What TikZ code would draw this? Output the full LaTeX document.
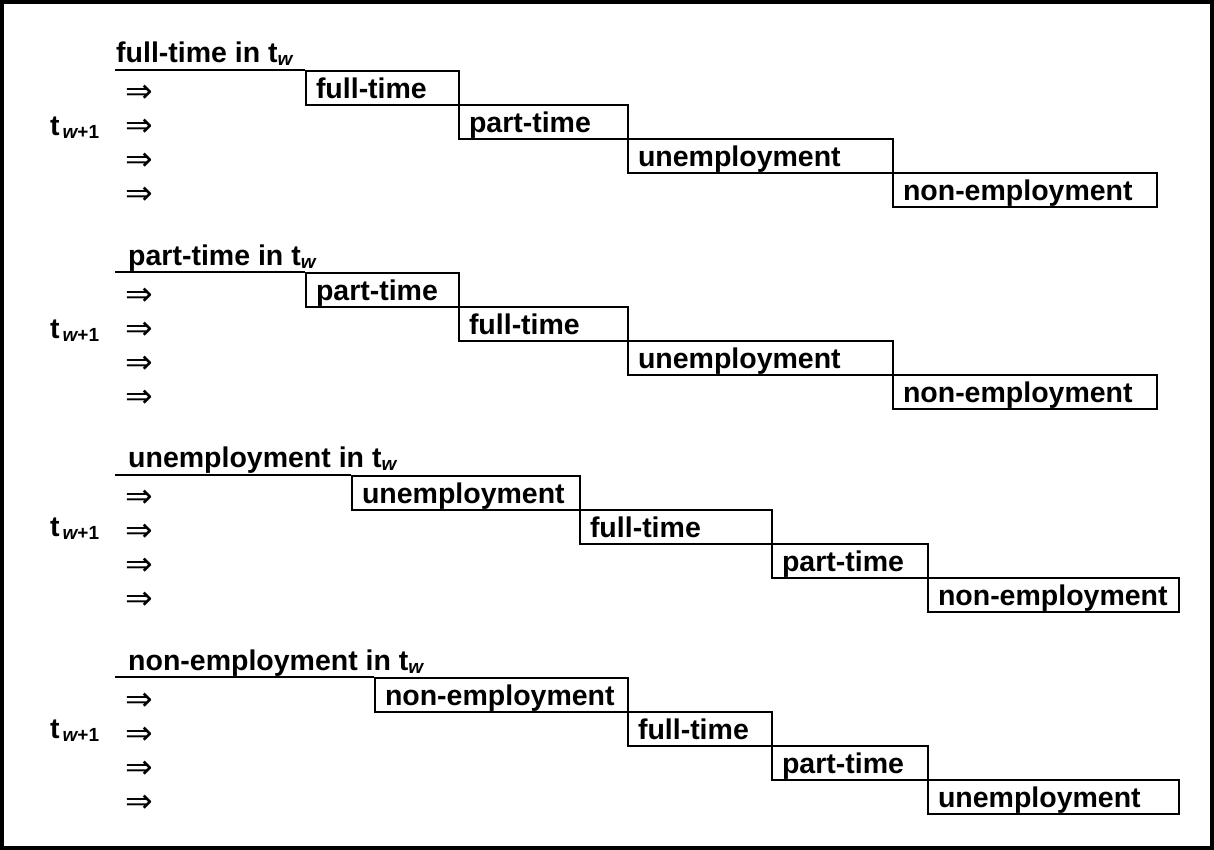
\documentclass[tikz,border=0pt]{standalone}
\usepackage{fontspec}
\setmainfont{Liberation Sans}
\newfontfamily\symf{DejaVu Sans}
\newcommand\tw{\raisebox{-3pt}{\fontsize{19}{19}\selectfont\itshape w}}
\newcommand\twp{\hspace{3pt}\raisebox{-3pt}{\fontsize{19}{19}\selectfont\itshape w\upshape+1}}
\newcommand\ar{{\symf ⇒}}
\begin{document}
\begin{tikzpicture}[x=1pt,y=-1pt,
  lbl/.style={font=\bfseries\fontsize{28.5}{34}\selectfont, inner sep=0pt, anchor=base west},
  arr/.style={font=\fontsize{33}{33}\selectfont, inner sep=0pt, anchor=base west},
  cell/.style={draw, line width=2pt, anchor=north west, inner xsep=10pt, inner ysep=0pt,
    text height=27.5pt, text depth=6.5pt, align=left, text width=#1,
    font=\bfseries\fontsize{28.5}{34}\selectfont},
  rule/.style={line width=2pt}
]
\useasboundingbox (0,0) rectangle (1214,850);
\draw[line width=4pt] (2,2) rectangle (1212,848);

% group 1
\coordinate (g1s) at (115,70);
\node[lbl] (g1h) at (116,63) {full-time in t\tw};
\node[cell=133pt] (g1a) at (305,70) {\mbox{full-time}};
\node[cell=149pt] (g1b) at (458,104) {\mbox{part-time}};
\node[cell=245pt] (g1c) at (627,138) {\mbox{unemployment}};
\node[cell=244pt] (g1d) at (892,172) {\mbox{non-employment}};
\draw[rule] (g1s) -- (g1a.north west);
\node[arr] (g1r1) at (125,103) {\ar};
\node[arr] (g1r2) at (125,137) {\ar};
\node[arr] (g1r3) at (125,171) {\ar};
\node[arr] (g1r4) at (125,205) {\ar};
\node[lbl] (g1t) at (50,136) {t\twp};

% group 2
\coordinate (g2s) at (115,272);
\node[lbl] (g2h) at (128,265) {part-time in t\tw};
\node[cell=133pt] (g2a) at (305,272) {\mbox{part-time}};
\node[cell=149pt] (g2b) at (458,306) {\mbox{full-time}};
\node[cell=245pt] (g2c) at (627,340) {\mbox{unemployment}};
\node[cell=244pt] (g2d) at (892,374) {\mbox{non-employment}};
\draw[rule] (g2s) -- (g2a.north west);
\node[arr] (g2r1) at (125,305) {\ar};
\node[arr] (g2r2) at (125,339) {\ar};
\node[arr] (g2r3) at (125,373) {\ar};
\node[arr] (g2r4) at (125,407) {\ar};
\node[lbl] (g2t) at (50,338) {t\twp};

% group 3
\coordinate (g3s) at (115,474.5);
\node[lbl] (g3h) at (128,467.5) {unemployment in t\tw};
\node[cell=208pt] (g3a) at (351,474.5) {\mbox{unemployment}};
\node[cell=172pt] (g3b) at (579,508.5) {\mbox{full-time}};
\node[cell=136pt] (g3c) at (771,542.5) {\mbox{part-time}};
\node[cell=231pt] (g3d) at (927,576.5) {\mbox{non-employment}};
\draw[rule] (g3s) -- (g3a.north west);
\node[arr] (g3r1) at (125,507.5) {\ar};
\node[arr] (g3r2) at (125,541.5) {\ar};
\node[arr] (g3r3) at (125,575.5) {\ar};
\node[arr] (g3r4) at (125,609.5) {\ar};
\node[lbl] (g3t) at (50,536) {t\twp};

% group 4
\coordinate (g4s) at (115,677);
\node[lbl] (g4h) at (128,670) {non-employment in t\tw};
\node[cell=233pt] (g4a) at (374,677) {\mbox{non-employment}};
\node[cell=124pt] (g4b) at (627,711) {\mbox{full-time}};
\node[cell=136pt] (g4c) at (771,745) {\mbox{part-time}};
\node[cell=231pt] (g4d) at (927,779) {\mbox{unemployment}};
\draw[rule] (g4s) -- (g4a.north west);
\node[arr] (g4r1) at (125,710) {\ar};
\node[arr] (g4r2) at (125,744) {\ar};
\node[arr] (g4r3) at (125,778) {\ar};
\node[arr] (g4r4) at (125,812) {\ar};
\node[lbl] (g4t) at (50,738.5) {t\twp};
\end{tikzpicture}
\end{document}
